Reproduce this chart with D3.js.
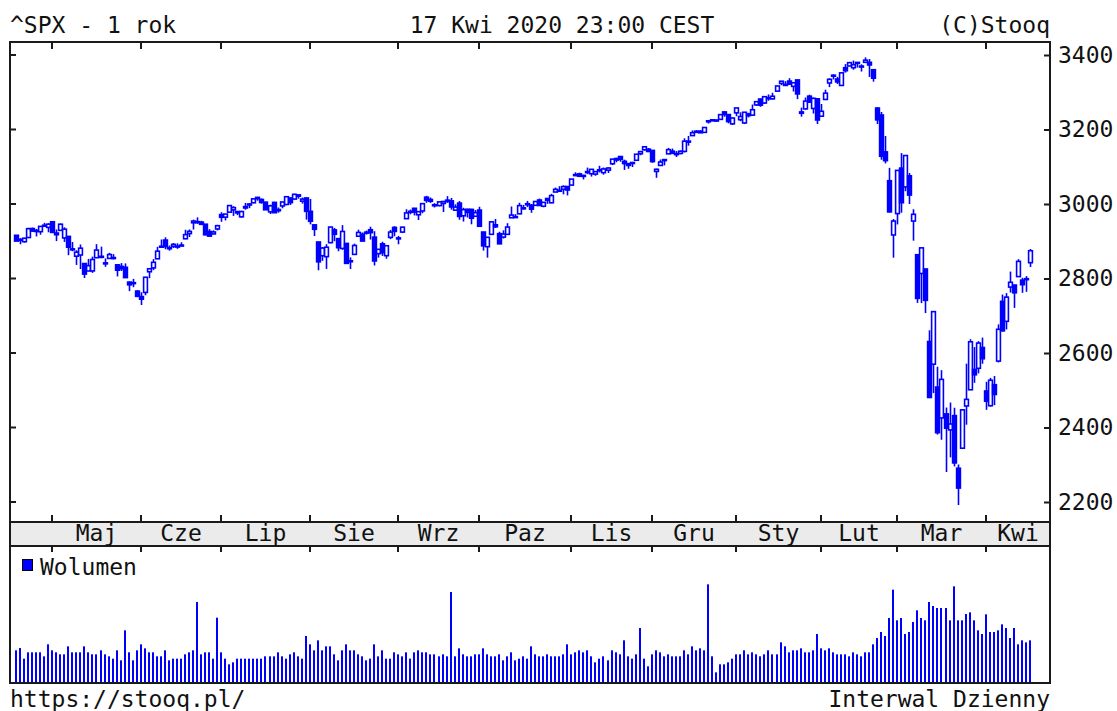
<!DOCTYPE html>
<meta charset="utf-8">
<style>
    * { margin: 0px; }
    body { background: #fff; }
    text {
        font-family: "DejaVu Sans Mono", monospace;
        font-size: 23px;
        fill: #111;
    }
</style>
<svg width="1117" height="711"></svg>
<script src="https://d3js.org/d3.v7.min.js"></script>
<script>
// sesje notowań, miesiąc po miesiącu
var monthDays = [
    ["2019-04", [17,18,22,23,24,25,26,29,30]],
    ["2019-05", [1,2,3,6,7,8,9,10,13,14,15,16,17,20,21,22,23,24,28,29,30,31]],
    ["2019-06", [3,4,5,6,7,10,11,12,13,14,17,18,19,20,21,24,25,26,27,28]],
    ["2019-07", [1,2,3,5,8,9,10,11,12,15,16,17,18,19,22,23,24,25,26,29,30,31]],
    ["2019-08", [1,2,5,6,7,8,9,12,13,14,15,16,19,20,21,22,23,26,27,28,29,30]],
    ["2019-09", [3,4,5,6,9,10,11,12,13,16,17,18,19,20,23,24,25,26,27,30]],
    ["2019-10", [1,2,3,4,7,8,9,10,11,14,15,16,17,18,21,22,23,24,25,28,29,30,31]],
    ["2019-11", [1,4,5,6,7,8,11,12,13,14,15,18,19,20,21,22,25,26,27,29]],
    ["2019-12", [2,3,4,5,6,9,10,11,12,13,16,17,18,19,20,23,24,26,27,30,31]],
    ["2020-01", [2,3,6,7,8,9,10,13,14,15,16,17,21,22,23,24,27,28,29,30,31]],
    ["2020-02", [3,4,5,6,7,10,11,12,13,14,18,19,20,21,24,25,26,27,28]],
    ["2020-03", [2,3,4,5,6,9,10,11,12,13,16,17,18,19,20,23,24,25,26,27,30,31]],
    ["2020-04", [1,2,3,6,7,8,9,13,14,15,16,17]]
];
var monthNames = ["Kwi","Maj","Cze","Lip","Sie","Wrz","Paz","Lis","Gru","Sty","Lut","Mar","Kwi"];

var open = [
    2916.04,2904.81,2898.78,2909.99,2934.00,2928.99,2925.81,2940.58,2937.14,
    2952.33,2922.16,2929.21,2908.89,2913.03,2879.61,2859.84,2863.10,2840.19,2820.12,2820.38,2855.80,2858.60,2841.94,2854.02,2856.06,2836.70,2832.41,2830.03,2790.25,2786.94,2766.15,
    2751.53,2762.64,2818.09,2828.51,2852.87,2885.83,2903.27,2882.73,2886.24,2886.82,2889.75,2906.71,2920.55,2949.60,2952.71,2951.42,2945.78,2926.07,2919.66,2932.94,
    2971.41,2964.66,2978.08,2984.25,2979.77,2965.52,2989.30,2999.62,3003.36,3017.80,3012.13,3005.10,2978.87,3004.26,2981.93,2994.74,2998.77,3016.26,3013.25,3024.47,3007.66,3016.22,
    2980.32,2943.90,2898.07,2861.18,2858.65,2896.21,2930.51,2907.07,2880.72,2894.15,2846.20,2864.74,2913.48,2919.01,2922.04,2930.94,2911.07,2866.70,2893.14,2861.28,2910.37,2937.09,
    2909.01,2924.67,2960.60,2980.33,2988.43,2971.01,2981.41,3018.21,3012.21,2996.41,2995.67,3001.50,3010.36,3008.42,2983.50,3002.43,2968.35,2985.73,2985.47,2967.07,
    2983.69,2924.78,2885.38,2918.56,2944.23,2920.40,2911.10,2918.55,2963.07,2965.81,2973.61,2989.68,3000.77,2996.84,2996.48,3010.73,2994.01,3014.78,3003.32,3032.12,3035.39,3039.74,3046.90,
    3050.72,3078.96,3080.80,3075.10,3087.02,3081.25,3080.33,3089.28,3084.18,3090.75,3107.92,3117.91,3127.45,3114.66,3108.49,3111.41,3117.44,3134.85,3145.49,3147.18,
    3143.85,3087.41,3103.50,3119.21,3134.62,3141.86,3135.36,3135.75,3141.23,3166.65,3183.63,3195.40,3195.21,3192.32,3223.33,3226.05,3225.45,3227.20,3247.23,3240.09,3215.18,
    3244.67,3226.36,3217.55,3241.86,3238.59,3266.03,3281.81,3271.13,3285.35,3282.27,3302.97,3323.66,3321.03,3330.02,3315.77,3333.10,3247.16,3255.35,3289.46,3256.45,3282.33,
    3235.66,3280.61,3324.91,3344.92,3335.54,3318.28,3365.87,3370.50,3365.90,3378.08,3369.04,3380.39,3380.45,3360.50,3257.61,3238.94,3139.90,3062.54,2916.90,
    2974.28,3096.46,3045.75,3075.70,2954.20,2863.89,2813.48,2825.60,2630.86,2569.99,2508.59,2425.66,2436.50,2393.48,2431.94,2290.71,2344.44,2457.77,2501.29,2555.87,2558.98,2614.69,
    2498.08,2458.54,2514.92,2578.28,2738.65,2685.00,2776.99,2782.46,2805.10,2795.64,2799.34,2842.43
];
var high = [
    2916.06,2908.40,2909.51,2936.31,2936.83,2933.10,2939.88,2949.52,2948.22,
    2954.13,2931.68,2947.85,2937.32,2913.03,2897.96,2875.97,2891.31,2840.19,2852.54,2858.68,2892.15,2885.48,2853.86,2868.88,2865.47,2836.70,2841.36,2840.51,2792.03,2799.00,2768.98,
    2763.07,2804.49,2827.28,2852.10,2884.97,2904.77,2910.61,2888.57,2895.24,2894.45,2897.27,2930.79,2931.74,2958.06,2964.15,2954.92,2946.52,2932.59,2929.30,2943.98,
    2977.93,2973.21,2995.84,2994.03,2980.76,2981.90,3002.98,3002.33,3013.92,3017.80,3015.02,3005.26,2998.28,3006.02,2990.71,3005.90,3019.59,3016.31,3027.98,3025.61,3017.19,3017.40,
    3013.59,2945.50,2898.07,2884.40,2892.17,2938.72,2935.75,2907.58,2943.31,2894.15,2856.67,2893.63,2931.00,2923.63,2928.73,2939.08,2927.01,2879.27,2898.79,2890.03,2930.50,2940.43,
    2914.39,2938.84,2985.86,2985.03,2989.43,2979.39,3000.93,3021.99,3017.33,3002.19,3006.21,3007.83,3021.19,3016.37,2999.15,3007.98,2989.82,2987.28,2987.31,2983.85,
    2992.53,2924.78,2911.13,2953.74,2959.75,2925.47,2929.32,2948.46,2993.28,2972.84,3003.28,2997.54,3008.29,3000.00,3007.33,3014.57,3004.78,3016.07,3027.39,3044.08,3047.87,3050.10,3046.90,
    3066.95,3085.20,3083.95,3078.34,3097.77,3093.09,3088.33,3102.61,3098.06,3098.20,3120.46,3124.17,3127.64,3118.97,3110.11,3112.87,3133.83,3142.69,3154.26,3150.30,
    3144.31,3094.97,3119.38,3119.45,3150.60,3148.87,3142.12,3143.98,3176.28,3182.68,3197.71,3198.22,3198.48,3205.48,3225.65,3227.78,3226.43,3240.08,3247.93,3240.92,3231.72,
    3258.14,3246.15,3246.84,3244.91,3267.07,3275.58,3282.99,3288.13,3294.25,3298.66,3317.11,3329.88,3329.79,3337.77,3326.88,3333.18,3258.85,3285.78,3293.47,3285.91,3282.33,
    3268.44,3306.92,3337.58,3347.96,3341.42,3352.26,3375.63,3381.47,3385.09,3380.69,3375.01,3393.52,3389.15,3360.76,3259.81,3246.99,3182.51,3097.07,2959.72,
    3090.96,3136.72,3130.97,3083.04,2985.93,2863.89,2882.59,2825.60,2660.95,2711.33,2562.98,2553.93,2453.57,2466.97,2453.01,2300.73,2449.71,2571.42,2637.01,2615.91,2631.80,2641.39,
    2522.75,2533.22,2538.18,2676.85,2756.89,2760.75,2818.57,2782.46,2851.85,2801.88,2806.51,2879.22
];
var low = [
    2900.71,2891.90,2896.35,2908.53,2926.05,2912.84,2917.56,2939.35,2924.11,
    2923.36,2900.50,2929.21,2898.21,2862.60,2873.28,2836.40,2825.39,2801.43,2820.12,2815.08,2855.80,2854.23,2831.29,2854.02,2851.11,2805.49,2820.19,2801.58,2766.06,2776.74,2750.52,
    2728.81,2755.05,2800.92,2822.45,2852.87,2885.51,2878.53,2874.68,2881.99,2879.62,2887.30,2905.44,2911.43,2931.50,2946.87,2944.05,2916.01,2912.99,2918.57,2929.05,
    2952.22,2955.92,2977.96,2967.97,2970.09,2963.44,2984.62,2988.80,3001.87,3008.77,3001.15,2984.25,2973.09,2975.86,2976.65,2988.56,2996.82,2997.24,3012.59,3014.30,3000.94,2958.08,
    2945.23,2914.11,2822.12,2847.42,2825.71,2894.47,2900.15,2873.14,2877.05,2839.64,2825.51,2864.74,2913.48,2899.60,2917.91,2904.51,2834.97,2856.00,2860.59,2853.05,2905.67,2913.32,
    2891.85,2921.86,2960.60,2972.51,2969.39,2957.01,2975.31,3003.16,3002.90,2990.67,2993.73,2978.57,3003.16,2984.68,2982.23,2957.73,2952.86,2963.71,2945.53,2967.07,
    2938.70,2874.93,2855.94,2918.56,2935.68,2892.66,2907.41,2917.12,2963.07,2962.94,2973.61,2985.20,2991.79,2976.31,2995.35,2995.04,2991.21,3000.42,3001.94,3032.12,3034.81,3025.96,3023.19,
    3050.72,3074.87,3072.15,3065.89,3080.23,3073.58,3075.82,3084.73,3078.80,3083.26,3104.60,3112.06,3113.47,3091.41,3094.55,3099.26,3117.44,3131.00,3143.41,3139.34,
    3110.78,3070.33,3102.53,3103.76,3134.62,3135.46,3126.09,3133.21,3138.47,3156.51,3183.63,3191.03,3191.14,3192.32,3216.03,3222.30,3220.51,3227.20,3234.37,3216.57,3212.03,
    3235.53,3222.34,3214.64,3232.43,3236.67,3263.67,3260.86,3268.43,3277.19,3280.69,3302.82,3318.86,3316.61,3320.04,3301.87,3281.53,3234.50,3253.22,3271.89,3242.80,3214.68,
    3235.66,3280.61,3313.75,3334.39,3322.12,3317.77,3352.72,3369.72,3360.52,3366.15,3355.61,3378.83,3341.02,3328.45,3214.65,3118.77,3108.99,2977.39,2855.84,
    2945.19,2976.63,3034.38,2999.83,2901.54,2734.43,2734.00,2707.22,2478.86,2492.37,2380.94,2367.04,2280.52,2319.78,2295.56,2191.86,2344.44,2407.53,2500.72,2520.02,2545.28,2571.15,
    2447.49,2455.79,2459.96,2574.57,2657.67,2663.30,2762.36,2721.17,2805.10,2761.54,2764.32,2830.88
];
var close = [
    2900.45,2905.03,2907.97,2933.68,2927.25,2926.17,2939.88,2943.03,2945.83,
    2923.73,2917.52,2945.64,2932.47,2884.05,2879.42,2870.72,2881.40,2811.87,2834.41,2850.96,2876.32,2859.53,2840.23,2864.36,2856.27,2822.24,2826.06,2802.39,2783.02,2788.86,2752.06,
    2744.45,2803.27,2826.15,2843.49,2873.34,2886.73,2885.72,2879.84,2891.64,2886.98,2889.67,2917.75,2926.46,2954.18,2950.46,2945.35,2917.38,2913.78,2924.92,2941.76,
    2964.33,2973.01,2995.82,2990.41,2975.95,2979.63,2993.07,2999.91,3013.77,3014.30,3004.04,2984.42,2995.11,2976.61,2985.03,3005.47,3019.56,3003.67,3025.86,3020.97,3013.18,2980.38,
    2953.56,2932.05,2844.74,2881.77,2883.98,2938.09,2918.65,2882.70,2926.32,2840.60,2847.60,2888.68,2923.65,2900.51,2924.43,2922.95,2847.11,2878.38,2869.16,2887.94,2924.58,2926.46,
    2906.27,2937.78,2976.00,2978.71,2978.43,2979.39,3000.93,3009.57,3007.39,2997.96,3005.70,3006.73,3006.79,2992.07,2991.78,2966.60,2984.87,2977.62,2961.79,2976.74,
    2940.25,2887.61,2910.63,2952.01,2938.79,2893.06,2919.40,2938.13,2970.27,2966.15,2995.68,2989.69,2997.95,2986.20,3006.72,2995.99,3004.52,3010.29,3022.55,3039.42,3036.89,3046.77,3037.56,
    3066.91,3078.27,3074.62,3076.78,3085.18,3093.08,3087.01,3091.84,3094.04,3096.63,3120.46,3122.03,3120.18,3108.46,3103.54,3110.29,3133.64,3140.52,3153.63,3140.98,
    3113.87,3093.20,3112.76,3117.43,3145.91,3135.96,3132.52,3141.63,3168.57,3168.80,3191.45,3192.52,3191.14,3205.37,3221.22,3224.01,3223.38,3239.91,3240.02,3221.29,3230.78,
    3257.85,3234.85,3246.28,3237.18,3253.05,3274.70,3265.35,3288.13,3283.15,3289.29,3316.81,3329.62,3320.79,3321.75,3325.54,3295.47,3243.63,3276.24,3273.40,3283.66,3225.52,
    3248.92,3297.59,3334.69,3345.78,3327.71,3352.09,3357.75,3379.45,3373.94,3380.16,3370.29,3386.15,3373.23,3337.75,3225.89,3128.21,3116.39,2978.76,2954.22,
    3090.23,3003.37,3130.12,3023.94,2972.37,2746.56,2882.23,2741.38,2480.64,2711.02,2386.13,2529.19,2398.10,2409.39,2304.92,2237.40,2447.33,2475.56,2630.07,2541.47,2626.65,2584.59,
    2470.50,2526.90,2488.65,2663.68,2659.41,2749.98,2789.82,2761.63,2846.06,2783.36,2799.55,2874.56
];
// wolumen (mln)
var volume = [
    2375,2550,1750,2225,2225,2225,2225,1925,2825,
    2375,2225,2075,2075,2675,2225,2225,2225,2675,2225,2075,2075,2375,2075,1925,1750,2375,1625,3875,2225,1625,2375,
    2825,2525,2225,2225,1925,1925,2375,1625,1750,1750,1750,2075,2225,2375,6000,2075,2225,2225,1750,4825,
    2225,1750,1325,1475,1750,1750,1750,1750,1750,1750,1750,1925,1925,1925,2225,1925,1750,2075,2225,1925,1750,3450,
    2825,2375,3125,2375,2675,2675,2075,1625,2375,2825,2375,2375,2075,1925,1625,1750,2825,1925,2375,1750,1750,2225,
    2075,1925,2225,1750,2225,2375,2225,2225,2075,2075,1925,2075,1925,6750,1925,2525,2075,1925,1925,2075,
    2075,2525,2075,1925,1925,2075,1625,1925,2225,1625,1750,1925,1750,2675,2075,1925,1925,2075,1925,1925,1925,2075,2825,
    2075,2225,2375,2225,2375,1925,1475,1750,1925,1625,2375,2225,2075,3125,1925,1750,2075,4050,1750,1175,
    2075,2375,2225,1925,2075,1925,1925,1925,2375,2075,2675,2375,2525,2375,7325,1925,725,1325,1325,1475,1750,
    2075,2075,2375,2075,2225,2075,1925,2075,2375,2075,2075,2975,2675,2225,2375,2375,2525,2225,2225,2375,3600,
    2525,2375,2525,2225,2075,2075,2075,1925,2225,2075,1925,2225,2225,2825,3300,3750,3450,4800,6925,
    4625,4800,3600,3750,4500,5375,4800,4625,6000,5700,5550,5550,5550,4625,7175,4625,4625,5100,5225,4625,3875,3600,
    5075,3750,3750,3875,4325,4050,3300,4050,2825,3125,2975,3125
];
var priceTicks = [2200, 2400, 2600, 2800, 3000, 3200, 3400];

var dates = [];
monthDays.forEach(function(m) {
    m[1].forEach(function(d) { dates.push(m[0] + "-" + (d < 10 ? "0" + d : d)); });
});
var bars = dates.map(function(d, i) {
    return { date: d, o: open[i], h: high[i], l: low[i], c: close[i], v: volume[i] };
});

var svg = d3.select("svg");
var boxL = 10, boxR = 1050, boxT = 42, plotB = 522, bandB = 546, boxB = 683;
var blue = "#0000ff", ink = "#1a1a1a";

var x = d3.scalePoint().domain(dates).range([16, 1030]);
var y = d3.scaleLinear().domain([2200, 3400]).range([502, 55]);
var yv = d3.scaleLinear().domain([0, 10125]).range([682, 547]);

function cx(d) { return Math.round(x(d.date)) + 0.5; }

// pasek miesięcy
svg.append("rect")
    .attr("x", boxL).attr("y", plotB)
    .attr("width", boxR - boxL).attr("height", bandB - plotB)
    .attr("fill", "#ebebeb");

// wolumen
svg.append("g").selectAll("rect")
    .data(bars)
    .enter().append("rect")
    .attr("x", function(d) { return Math.round(x(d.date)) - 1; })
    .attr("y", function(d) { return yv(d.v); })
    .attr("width", 2)
    .attr("height", function(d) { return yv(0) - yv(d.v); })
    .attr("fill", blue);

// świece
var candles = svg.append("g");
candles.selectAll("line")
    .data(bars)
    .enter().append("line")
    .attr("x1", cx)
    .attr("x2", cx)
    .attr("y1", function(d) { return y(d.h); })
    .attr("y2", function(d) { return y(d.l); })
    .attr("stroke", blue)
    .attr("stroke-width", 1.6);

candles.selectAll("rect")
    .data(bars)
    .enter().append("rect")
    .attr("x", function(d) { return cx(d) - 1.9; })
    .attr("y", function(d) { return y(Math.max(d.o, d.c)); })
    .attr("width", 3.8)
    .attr("height", function(d) { return Math.max(1, Math.abs(y(d.o) - y(d.c))); })
    .attr("fill", function(d) { return d.c >= d.o ? "#fff" : blue; })
    .attr("stroke", blue)
    .attr("stroke-width", 1.6);

// ramka
svg.append("rect")
    .attr("x", boxL).attr("y", boxT)
    .attr("width", boxR - boxL).attr("height", boxB - boxT)
    .attr("fill", "none").attr("stroke", ink).attr("stroke-width", 2);
[plotB, bandB].forEach(function(yy) {
    svg.append("line")
        .attr("x1", boxL).attr("x2", boxR).attr("y1", yy).attr("y2", yy)
        .attr("stroke", ink).attr("stroke-width", 2);
});

// oś cen po prawej
var axis = svg.append("g")
    .attr("transform", "translate(" + boxR + ",0)")
    .call(d3.axisRight(y).tickValues(priceTicks).tickFormat(d3.format("d")).tickSize(-6).tickPadding(8));
axis.select(".domain").remove();
axis.selectAll("line").attr("stroke", ink).attr("stroke-width", 2);
axis.attr("font-family", null).attr("font-size", null);
axis.selectAll("text").attr("fill", "#111");

// kreski cen po lewej
svg.append("g").selectAll("line")
    .data(priceTicks)
    .enter().append("line")
    .attr("x1", boxL).attr("x2", boxL + 6)
    .attr("y1", function(d) { return y(d); })
    .attr("y2", function(d) { return y(d); })
    .attr("stroke", ink).attr("stroke-width", 2);

// miesiące
var firsts = monthDays.map(function(m) { return m[0] + "-" + (m[1][0] < 10 ? "0" + m[1][0] : m[1][0]); });
var tickX = firsts.map(function(d) { return Math.round(x(d)); });
var tg = svg.append("g").attr("stroke", ink).attr("stroke-width", 2);
tickX.forEach(function(tx, i) {
    if (i === 0) return;
    tg.append("line").attr("x1", tx).attr("x2", tx).attr("y1", boxT).attr("y2", boxT + 7);
    tg.append("line").attr("x1", tx).attr("x2", tx).attr("y1", plotB - 7).attr("y2", plotB);
    tg.append("line").attr("x1", tx).attr("x2", tx).attr("y1", bandB).attr("y2", bandB + 6);
});
monthNames.forEach(function(name, i) {
    var x0 = i === 0 ? boxL : tickX[i];
    var x1 = i + 1 < tickX.length ? tickX[i + 1] : boxR;
    if (x1 - x0 < 55) return;
    svg.append("text")
        .attr("x", (x0 + x1) / 2).attr("y", 541)
        .attr("text-anchor", "middle")
        .text(name);
});

// napisy
svg.append("text").attr("x", 10).attr("y", 33).text("^SPX - 1 rok");
svg.append("text").attr("x", 562).attr("y", 33).attr("text-anchor", "middle").text("17 Kwi 2020 23:00 CEST");
svg.append("text").attr("x", 1050).attr("y", 33).attr("text-anchor", "end").text("(C)Stooq");
svg.append("text").attr("x", 10).attr("y", 707).text("https://stooq.pl/");
svg.append("text").attr("x", 1050).attr("y", 707).attr("text-anchor", "end").text("Interwal Dzienny");

// legenda wolumenu
svg.append("rect")
    .attr("x", 22.5).attr("y", 559.5).attr("width", 10).attr("height", 11)
    .attr("fill", blue).attr("stroke", "#000").attr("stroke-width", 1);
svg.append("text").attr("x", 40).attr("y", 575).text("Wolumen");
</script>
